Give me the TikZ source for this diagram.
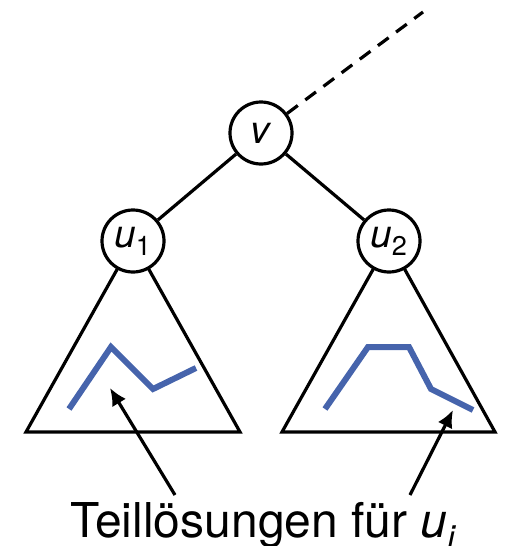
\documentclass[tikz,border=0pt]{standalone}
\usepackage{fontspec}
\setmainfont{TeX Gyre Heros}
\usetikzlibrary{arrows.meta}
\definecolor{solblue}{RGB}{70,100,172}
\tikzset{
	knoten/.style={circle, draw, fill=white, line width=2.4pt, minimum size=62*0.75pt, inner sep=0pt, font=\fontsize{29}{32}\selectfont},
	teilbaum/.style={draw, line width=2.4pt, line join=miter},
	loesung/.style={solblue, line width=4.5pt, line join=miter}
}
\begin{document}
\begin{tikzpicture}[x=0.75pt, y=-0.75pt, >={Latex[length=13pt,width=12pt]}]
		\useasboundingbox (0,0) rectangle (505,546);
		% Teilbaeume
		\draw[teilbaum] (133,241) -- (26,432) -- (240,432) -- cycle;
		\draw[teilbaum] (389,241) -- (282,432) -- (495,432) -- cycle;
		% Teilloesungen
		\draw[loesung] (69,409) -- (111,347) -- (153,389) -- (196,368);
		\draw[loesung] (325,409) -- (368,347) -- (409,347) -- (431,389) -- (473,410);
		% Knoten
		\node[knoten] (v) at (261,133) {\textit{v}};
		\node[knoten] (u1) at (133,241) {\textit{u}\textsubscript{1}};
		\node[knoten] (u2) at (389,241) {\textit{u}\textsubscript{2}};
		\coordinate (oben) at (423,12);
		\draw[line width=2.4pt] (v) -- (u1);
		\draw[line width=2.4pt] (v) -- (u2);
		\draw[line width=2.4pt, dash pattern=on 10pt off 7pt] (v) -- (oben);
		% Beschriftung
		\node[anchor=base, inner sep=0pt, font=\fontsize{36}{40}\selectfont] (text) at (263,537) {Teillösungen für \textit{u\textsubscript{i}}};
		\coordinate (s1) at (175,495);
		\coordinate (s2) at (410,495);
		\coordinate (z1) at (110,388);
		\coordinate (z2) at (453,410);
		\draw[->, line width=2.4pt] (s1) -- (z1);
		\draw[->, line width=2.4pt] (s2) -- (z2);
	\end{tikzpicture}
\end{document}
